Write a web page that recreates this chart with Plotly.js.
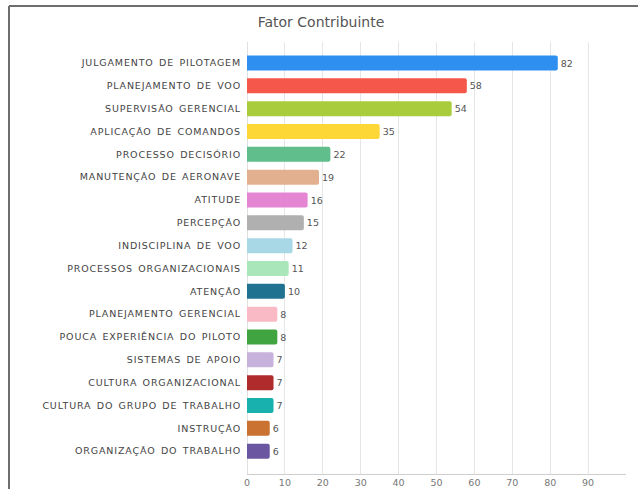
<!DOCTYPE html>
<html>
<head>
<meta charset="utf-8">
<script src="https://cdn.plot.ly/plotly-3.0.1.min.js"></script>
<style>
html,body{margin:0;padding:0;background:#fff;}
#chart{width:638px;height:489px;}
#chart .ytick text{letter-spacing:0.85px;word-spacing:1.5px;}
</style>
</head>
<body>
<div id="chart"></div>
<script>
const categories = [
  "JULGAMENTO DE PILOTAGEM",
  "PLANEJAMENTO DE VOO",
  "SUPERVISÃO GERENCIAL",
  "APLICAÇÃO DE COMANDOS",
  "PROCESSO DECISÓRIO",
  "MANUTENÇÃO DE AERONAVE",
  "ATITUDE",
  "PERCEPÇÃO",
  "INDISCIPLINA DE VOO",
  "PROCESSOS ORGANIZACIONAIS",
  "ATENÇÃO",
  "PLANEJAMENTO GERENCIAL",
  "POUCA EXPERIÊNCIA DO PILOTO",
  "SISTEMAS DE APOIO",
  "CULTURA ORGANIZACIONAL",
  "CULTURA DO GRUPO DE TRABALHO",
  "INSTRUÇÃO",
  "ORGANIZAÇÃO DO TRABALHO"
];
const values = [82, 58, 54, 35, 22, 19, 16, 15, 12, 11, 10, 8, 8, 7, 7, 7, 6, 6];
const barColors = [
  "#2f8ff0", "#f5584a", "#a9cc3d", "#fdd736", "#5fbe8c", "#e3b08f",
  "#e586d3", "#b0b0b0", "#a8d7e6", "#a9e6b9", "#1f7391", "#f9b9c5",
  "#40a440", "#c7b2db", "#b02b2b", "#19b1ae", "#c97232", "#6a56a1"
];
const xTicks = [0, 10, 20, 30, 40, 50, 60, 70, 80, 90];
const chartTitle = "Fator Contribuinte";

const W = 638, H = 489;
const M = {l: 247, r: 12, t: 42, b: 15};
const pw = W - M.l - M.r, ph = H - M.t - M.b;
const px = v => (v - M.l) / pw;
const py = v => (H - M.b - v) / ph;

const trace = {
  type: "bar",
  orientation: "h",
  x: values,
  y: categories,
  marker: {color: barColors, cornerradius: 2},
  width: 0.66,
  text: values.map(String),
  textposition: "outside",
  cliponaxis: false,
  textfont: {family: "DejaVu Sans, Verdana, sans-serif", size: 9.5, color: "#555"},
  hoverinfo: "none"
};

const layout = {
  width: W, height: H,
  margin: M,
  paper_bgcolor: "#fff",
  plot_bgcolor: "#fff",
  showlegend: false,
  title: {
    text: chartTitle,
    x: 321 / W, xref: "container", xanchor: "center",
    y: 1 - 22 / H, yref: "container", yanchor: "middle",
    font: {family: "DejaVu Sans, Verdana, sans-serif", size: 14, color: "#555"}
  },
  xaxis: {
    range: [0, 100],
    tickvals: xTicks,
    ticktext: xTicks.map(String),
    showgrid: true,
    gridcolor: "#e6e6e6",
    gridwidth: 1,
    zeroline: true,
    zerolinecolor: "#e0e0e0",
    showline: true,
    linecolor: "#cfcfcf",
    ticks: "",
    tickfont: {family: "DejaVu Sans, Verdana, sans-serif", size: 9.5, color: "#777"}
  },
  yaxis: {
    type: "category",
    range: [18, -0.92],
    showgrid: false,
    zeroline: false,
    showline: false,
    ticks: "",
    ticklabelstandoff: 5,
    tickfont: {family: "DejaVu Sans, Verdana, sans-serif", size: 9.5, color: "#444"}
  },
  shapes: [
    {type: "line", xref: "paper", yref: "paper", x0: px(9), x1: px(640), y0: py(6), y1: py(6), line: {color: "#6e6e6e", width: 2}},
    {type: "line", xref: "paper", yref: "paper", x0: px(9), x1: px(9), y0: py(6), y1: py(492), line: {color: "#6e6e6e", width: 2}}
  ],
  bargap: 0.34
};

Plotly.newPlot("chart", [trace], layout, {staticPlot: true, displayModeBar: false});
</script>
</body>
</html>
